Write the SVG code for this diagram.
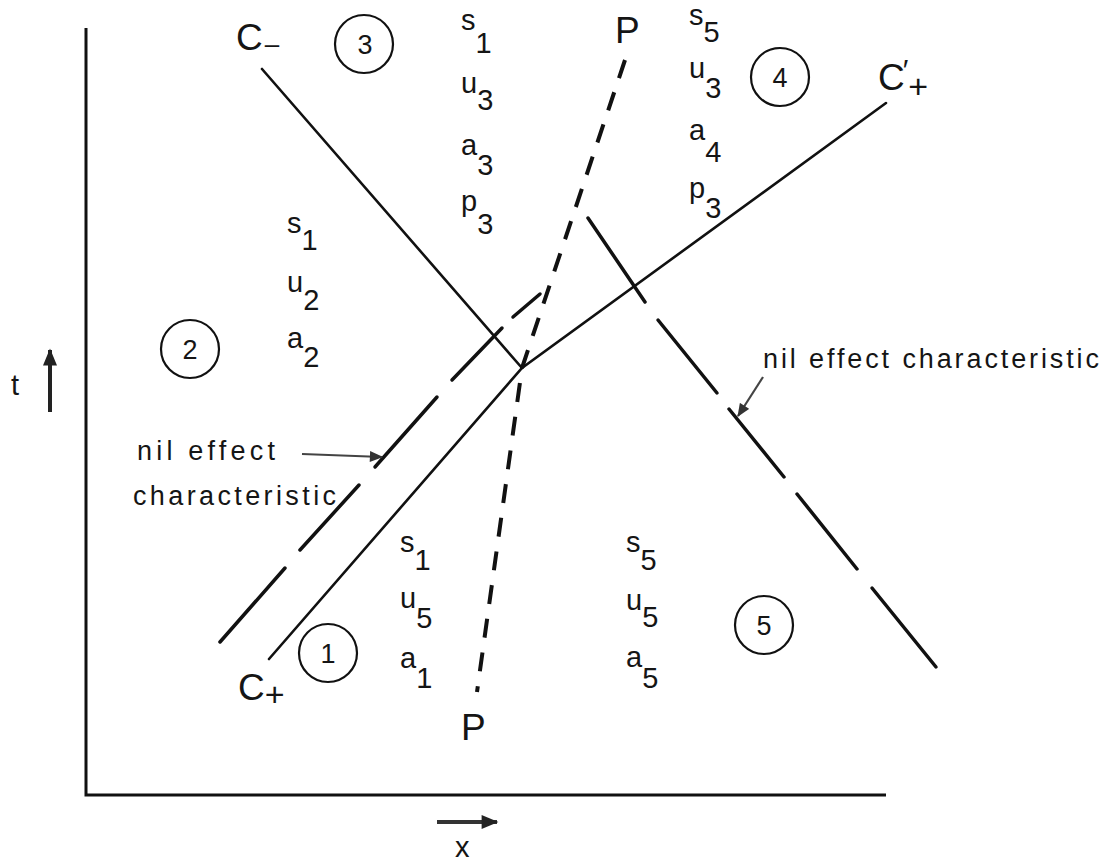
<svg xmlns="http://www.w3.org/2000/svg" width="1110" height="862" viewBox="0 0 1110 862">
<style>
text{font-family:"Liberation Sans","DejaVu Sans",sans-serif;fill:#151515}
.v{font-size:29px}
.big{font-size:37px}
.lab{font-size:27px}
.cn{font-size:27px;text-anchor:middle}
.ax{stroke:#111;stroke-width:3;fill:none}
.sol{stroke:#111;stroke-width:2.6;fill:none;stroke-linecap:round}
.nil{stroke:#111;stroke-width:3.5;fill:none;stroke-linecap:round}
.pl{stroke:#111;stroke-width:4;fill:none;stroke-dasharray:19 15}
.circ{stroke:#111;stroke-width:2.2;fill:none}
.ptr{stroke:#444;stroke-width:2.2;fill:none}
</style>
<defs>
<marker id="ah" viewBox="0 0 12 10" refX="11" refY="5" markerWidth="14" markerHeight="11" markerUnits="userSpaceOnUse" orient="auto">
<path d="M0,0 L12,5 L0,10 Z" fill="#333"/>
</marker>
<marker id="ahb" viewBox="0 0 12 10" refX="11" refY="5" markerWidth="20" markerHeight="14" markerUnits="userSpaceOnUse" orient="auto">
<path d="M0,0 L12,5 L0,10 Z" fill="#222"/>
</marker>
</defs>
<rect width="1110" height="862" fill="#fff"/>

<g id="axes">
<path class="ax" d="M86,28 L86,795 L886,795"/>
<line x1="50" y1="412" x2="50" y2="350" stroke="#222" stroke-width="4" marker-end="url(#ahb)"/>
<text x="11" y="395" class="v">t</text>
<line x1="437" y1="822" x2="497" y2="822" stroke="#333" stroke-width="4" marker-end="url(#ahb)"/>
<text x="455" y="857" class="v">x</text>
</g>

<g id="connectors">
<polyline id="c-minus" class="sol" points="262,69 522,368"/>
<polyline id="c-plus" class="sol" points="269,659 522,368 886,103"/>
<polyline id="p-line" class="pl" points="625,60 522,368 477,692"/>
<g id="nil-left" class="nil">
<line x1="220" y1="642" x2="285" y2="568"/>
<line x1="300" y1="550" x2="359" y2="485"/>
<line x1="375" y1="467" x2="437" y2="397"/>
<line x1="452" y1="380" x2="502" y2="328"/>
<line x1="513" y1="317" x2="540" y2="294"/>
</g>
<g id="nil-right" class="nil">
<line x1="588" y1="218" x2="645" y2="302"/>
<line x1="658" y1="320" x2="717" y2="393"/>
<line x1="729" y1="409" x2="784" y2="477"/>
<line x1="797" y1="494" x2="857" y2="569"/>
<line x1="872" y1="588" x2="936" y2="667"/>
</g>
<line class="ptr" x1="302" y1="454" x2="382" y2="457" marker-end="url(#ah)"/>
<line class="ptr" x1="763" y1="377" x2="738" y2="416" marker-end="url(#ah)"/>
</g>

<g id="line-labels">
<text x="236" y="50" class="big">C<tspan font-size="26" dx="2" dy="3">–</tspan></text>
<text x="238" y="700" class="big">C<tspan font-size="34" dy="6">+</tspan></text>
<text x="878" y="90" class="big">C<tspan font-size="30" dx="-2" dy="-10">′</tspan><tspan font-size="34" dy="18">+</tspan></text>
<text x="615" y="43" class="big">P</text>
<text x="461" y="740" class="big">P</text>
<text x="137" y="460" class="lab" textLength="138" lengthAdjust="spacing">nil effect</text>
<text x="133" y="505" class="lab" textLength="203" lengthAdjust="spacing">characteristic</text>
<text x="763" y="368" class="lab" textLength="336" lengthAdjust="spacing">nil effect characteristic</text>
</g>

<g id="region-1">
<circle class="circ" cx="328" cy="653" r="29"/>
<text x="328" y="663" class="cn">1</text>
<text x="400" y="552" class="v">s<tspan y="570">1</tspan></text>
<text x="400" y="608" class="v">u<tspan y="628">5</tspan></text>
<text x="400" y="668" class="v">a<tspan y="688">1</tspan></text>
</g>

<g id="region-2">
<circle class="circ" cx="190" cy="349" r="29"/>
<text x="190" y="359" class="cn">2</text>
<text x="287" y="233" class="v">s<tspan y="250">1</tspan></text>
<text x="287" y="292" class="v">u<tspan y="310">2</tspan></text>
<text x="287" y="348" class="v">a<tspan y="367">2</tspan></text>
</g>

<g id="region-3">
<circle class="circ" cx="364" cy="44" r="29"/>
<text x="365" y="54" class="cn">3</text>
<text x="461" y="30" class="v">s<tspan y="53">1</tspan></text>
<text x="461" y="93" class="v">u<tspan y="110">3</tspan></text>
<text x="461" y="155" class="v">a<tspan y="175">3</tspan></text>
<text x="461" y="211" class="v">p<tspan y="234">3</tspan></text>
</g>

<g id="region-4">
<circle class="circ" cx="780" cy="77" r="29"/>
<text x="780" y="87" class="cn">4</text>
<text x="689" y="25" class="v">s<tspan y="42">5</tspan></text>
<text x="689" y="78" class="v">u<tspan y="98">3</tspan></text>
<text x="689" y="140" class="v">a<tspan y="162">4</tspan></text>
<text x="689" y="198" class="v">p<tspan y="218">3</tspan></text>
</g>

<g id="region-5">
<circle class="circ" cx="764" cy="625" r="29"/>
<text x="764" y="635" class="cn">5</text>
<text x="626" y="552" class="v">s<tspan y="570">5</tspan></text>
<text x="626" y="610" class="v">u<tspan y="627">5</tspan></text>
<text x="626" y="667" class="v">a<tspan y="688">5</tspan></text>
</g>
</svg>
